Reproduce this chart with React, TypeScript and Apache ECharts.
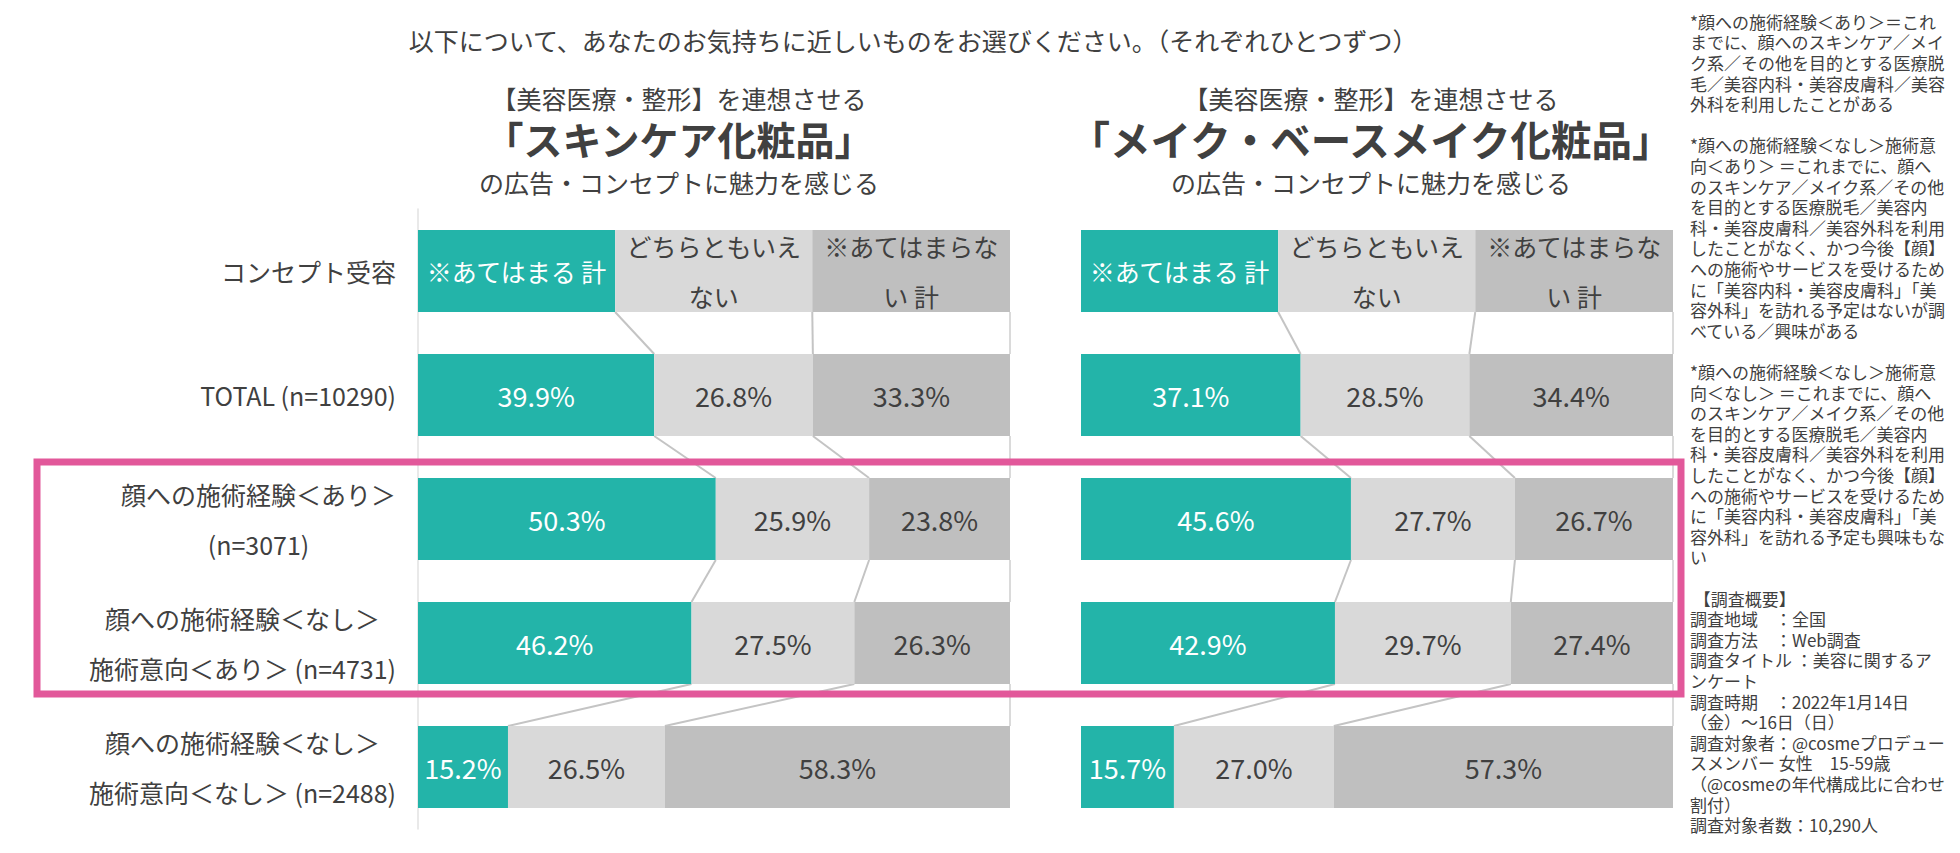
import React, { useEffect, useRef } from "react";
import * as echarts from "echarts";

const FONT = "'Noto Sans CJK JP', 'Noto Sans', sans-serif";

const categories = [
  "コンセプト受容",
  "TOTAL (n=10290)",
  "顔への施術経験＜あり＞\n(n=3071)",
  "顔への施術経験＜なし＞\n施術意向＜あり＞ (n=4731)",
  "顔への施術経験＜なし＞\n施術意向＜なし＞ (n=2488)",
];

const seriesNames = ["※あてはまる 計", "どちらともいえない", "※あてはまらない 計"];
const headerLabels = ["※あてはまる 計", "どちらともいえ\nない", "※あてはまらな\nい 計"];

// left chart: スキンケア化粧品 (first row = header row, equal thirds)
const skinAgree = [33.3, 39.9, 50.3, 46.2, 15.2];
const skinNeutral = [33.3, 26.8, 25.9, 27.5, 26.5];
const skinDisagree = [33.4, 33.3, 23.8, 26.3, 58.3];

// right chart: メイク・ベースメイク化粧品
const makeAgree = [33.3, 37.1, 45.6, 42.9, 15.7];
const makeNeutral = [33.3, 28.5, 27.7, 29.7, 27.0];
const makeDisagree = [33.4, 34.4, 26.7, 27.4, 57.3];

const titleText = "以下について、あなたのお気持ちに近しいものをお選びください。（それぞれひとつずつ）";
const leftHead = ["【美容医療・整形】を連想させる", "「スキンケア化粧品」", "の広告・コンセプトに魅力を感じる"];
const rightHead = ["【美容医療・整形】を連想させる", "「メイク・ベースメイク化粧品」", "の広告・コンセプトに魅力を感じる"];

const notesLines = [
  "*顔への施術経験＜あり＞＝これ",
  "までに、顔へのスキンケア／メイ",
  "ク系／その他を目的とする医療脱",
  "毛／美容内科・美容皮膚科／美容",
  "外科を利用したことがある",
  "",
  "*顔への施術経験＜なし＞施術意",
  "向＜あり＞ ＝これまでに、顔へ",
  "のスキンケア／メイク系／その他",
  "を目的とする医療脱毛／美容内",
  "科・美容皮膚科／美容外科を利用",
  "したことがなく、かつ今後【顔】",
  "への施術やサービスを受けるため",
  "に「美容内科・美容皮膚科」「美",
  "容外科」を訪れる予定はないが調",
  "べている／興味がある",
  "",
  "*顔への施術経験＜なし＞施術意",
  "向＜なし＞ ＝これまでに、顔へ",
  "のスキンケア／メイク系／その他",
  "を目的とする医療脱毛／美容内",
  "科・美容皮膚科／美容外科を利用",
  "したことがなく、かつ今後【顔】",
  "への施術やサービスを受けるため",
  "に「美容内科・美容皮膚科」「美",
  "容外科」を訪れる予定も興味もな",
  "い",
  "",
  " 【調査概要】",
  "調査地域　：全国",
  "調査方法　：Web調査",
  "調査タイトル ：美容に関するア",
  "ンケート",
  "調査時期　：2022年1月14日",
  "（金）～16日（日）",
  "調査対象者：@cosmeプロデュー",
  "スメンバー 女性　15-59歳",
  "（@cosmeの年代構成比に合わせ",
  "割付）",
  "調査対象者数：10,290人",
];

const TEAL = "#23B4A9";
const LIGHT = "#D9D9D9";
const MID = "#BFBFBF";
const TEXT = "#404040";
const BAR_W = 82;

function buildSeries(gridIdx: number, agree: number[], neutral: number[], disagree: number[]) {
  const cols = [agree, neutral, disagree];
  const colors = [TEAL, LIGHT, MID];
  const bars = cols.map((vals, k) => ({
    type: "bar",
    name: seriesNames[k],
    stack: "s" + gridIdx,
    xAxisIndex: gridIdx,
    yAxisIndex: gridIdx,
    barWidth: BAR_W,
    data: vals,
    itemStyle: { color: colors[k] },
    label: {
      show: true,
      position: "inside",
      fontFamily: FONT,
      color: k === 0 ? "#FFFFFF" : TEXT,
      fontSize: 27,
      formatter: (p: any) => (p.dataIndex === 0 ? "{h|" + headerLabels[k].split("\n").join("}\n{h|") + "}" : p.value.toFixed(1) + "%"),
      rich: {
        h: { fontSize: 25, lineHeight: 50, color: k === 0 ? "#FFFFFF" : TEXT, fontFamily: FONT },
      },
    },
    z: 3,
  }));
  // connector lines between consecutive rows
  const conn: number[][] = [];
  for (let i = 0; i < agree.length - 1; i++) {
    conn.push([agree[i], i, agree[i + 1], i + 1, 0]);
    conn.push([agree[i] + neutral[i], i, agree[i + 1] + neutral[i + 1], i + 1, 0]);
    conn.push([100, i, 100, i + 1, 1]);
  }
  const custom = {
    type: "custom",
    xAxisIndex: gridIdx,
    yAxisIndex: gridIdx,
    silent: true,
    encode: { x: [0, 2], y: [1, 3] },
    data: conn,
    z: 2,
    renderItem: (params: any, api: any) => {
      const p1 = api.coord([api.value(0), api.value(1)]);
      const p2 = api.coord([api.value(2), api.value(3)]);
      const edge = api.value(4) === 1;
      return {
        type: "line",
        shape: { x1: p1[0], y1: p1[1] + BAR_W / 2, x2: p2[0], y2: p2[1] - BAR_W / 2 },
        style: { stroke: edge ? "#DADADA" : "#C4C4C4", lineWidth: 2 },
      };
    },
  };
  return [...bars, custom];
}

export default function App() {
  const ref = useRef<HTMLDivElement>(null);
  useEffect(() => {
    if (!ref.current) return;
    const chart = echarts.init(ref.current, undefined, { renderer: "svg" });
    const headText = (lines: string[], cx: number, bigSize: number) => [
      { type: "text", x: cx, y: 98, style: { text: lines[0], fontSize: 25, fontFamily: FONT, fill: TEXT, align: "center", verticalAlign: "middle" } },
      { type: "text", x: cx, y: 138, style: { text: lines[1], fontSize: bigSize, fontWeight: "bold", fontFamily: FONT, fill: TEXT, align: "center", verticalAlign: "middle" } },
      { type: "text", x: cx, y: 182, style: { text: lines[2], fontSize: 25, fontFamily: FONT, fill: TEXT, align: "center", verticalAlign: "middle" } },
    ];
    chart.setOption({
      animation: false,
      backgroundColor: "#FFFFFF",
      textStyle: { fontFamily: FONT },
      grid: [
        { left: 418, width: 592, top: 209, height: 620 },
        { left: 1081, width: 592, top: 209, height: 620 },
      ],
      xAxis: [
        { type: "value", gridIndex: 0, min: 0, max: 100, show: false },
        { type: "value", gridIndex: 1, min: 0, max: 100, show: false },
      ],
      yAxis: [
        {
          type: "category",
          gridIndex: 0,
          data: categories,
          inverse: true,
          axisLine: { show: true, lineStyle: { color: "#E2E2E2", width: 1.5 } },
          axisTick: { show: false },
          axisLabel: {
            margin: 22,
            align: "right",
            formatter: (v: string) => v.split("\n").map((s) => "{c|" + s + "}").join("\n"),
            rich: { c: { align: "center", fontSize: 25, lineHeight: 50, color: TEXT, fontFamily: FONT } },
          },
        },
        {
          type: "category",
          gridIndex: 1,
          data: categories,
          inverse: true,
          axisLine: { show: false },
          axisTick: { show: false },
          axisLabel: { show: false },
        },
      ],
      series: [
        ...buildSeries(0, skinAgree, skinNeutral, skinDisagree),
        ...buildSeries(1, makeAgree, makeNeutral, makeDisagree),
      ],
      graphic: [
        { type: "text", x: 913, y: 40, style: { text: titleText, fontSize: 25, fontFamily: FONT, fill: TEXT, align: "center", verticalAlign: "middle" } },
        ...headText(leftHead, 679, 39),
        ...headText(rightHead, 1371, 40.5),
        {
          type: "text",
          x: 1690,
          y: 11,
          style: { text: notesLines.join("\n"), fontSize: 17, lineHeight: 20.6, fontFamily: FONT, fill: TEXT, align: "left", verticalAlign: "top" },
        },
        {
          type: "rect",
          z: 100,
          shape: { x: 37, y: 462, width: 1644, height: 232 },
          style: { fill: "none", stroke: "#E2589A", lineWidth: 7 },
        },
      ],
    });
    return () => chart.dispose();
  }, []);
  return <div ref={ref} style={{ position: "fixed", left: 0, top: 0, width: 1960, height: 853 }} />;
}
